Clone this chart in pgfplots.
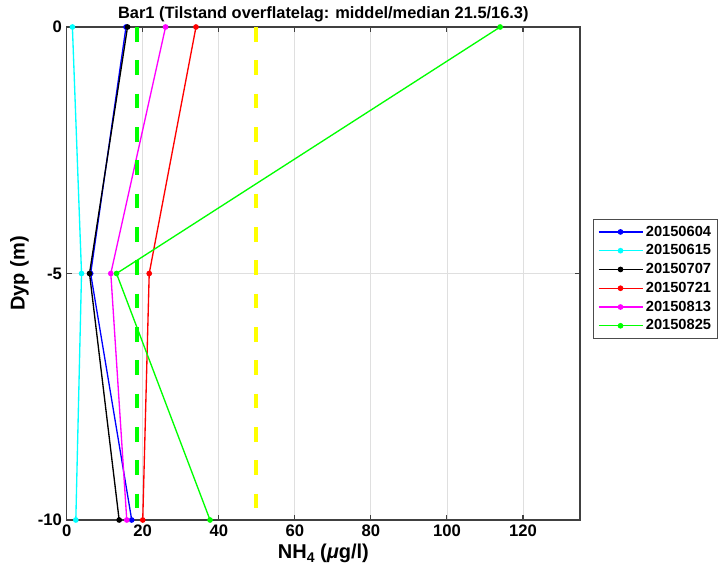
\documentclass[border=0pt]{standalone}
\usepackage{pgfplots}
\pgfplotsset{compat=1.18}
\usepackage{fontspec}
\setmainfont{Liberation Sans}
\definecolor{mblue}{RGB}{0,0,255}
\definecolor{mcyan}{RGB}{0,255,255}
\definecolor{mred}{RGB}{255,0,0}
\definecolor{mmag}{RGB}{255,0,255}
\definecolor{mgreen}{RGB}{0,255,0}
\definecolor{myellow}{RGB}{255,255,0}
\begin{document}
\begin{tikzpicture}[x=0.75pt,y=0.75pt]
\begin{axis}[
  at={(0,0)}, anchor=south west,
  scale only axis, width=384.98pt, height=369.75pt,
  xmin=0, xmax=135, ymin=-10, ymax=0,
  xtick={0,20,40,60,80,100,120}, ytick={-10,-5,0},
  grid=major, major grid style={gray!25, line width=0.6pt},
  axis line style={black!75, line width=0.8pt},
  tick style={black!75, line width=0.8pt},
  tick align=inside, major tick length=4pt,
  tick label style={font=\bfseries\fontsize{12.5}{14}\selectfont},
  /pgf/number format/assume math mode=true,
  title={\bfseries Bar1 (Tilstand overflatelag: middel/median 21.5/16.3)},
  title style={font=\fontsize{12.3}{14}\selectfont, at={(axis description cs:0.5,1)}, anchor=south, yshift=-6pt},
  xlabel={\bfseries NH\raisebox{-0.35ex}{\fontsize{10.5}{12}\selectfont 4} ({\itshape μ}g/l)},
  xlabel style={font=\fontsize{15}{17}\selectfont, yshift=1pt},
  ylabel={\bfseries Dyp (m)},
  ylabel style={font=\fontsize{15}{17}\selectfont, yshift=0pt},
  legend style={at={(395pt,226pt)}, anchor=north west, draw=black!70, line width=0.7pt,
    font=\bfseries\fontsize{11}{13}\selectfont, row sep=0.9pt, inner xsep=3pt, inner ysep=3pt},
  legend cell align=left,
  legend image code/.code={\draw[#1, mark repeat=2, mark phase=2] plot coordinates {(0cm,0cm) (0.58cm,0cm) (1.16cm,0cm)};},
  every axis plot/.append style={line width=1pt, mark=*, mark size=1.6pt},
]
\addplot[mblue, mark options={fill=mblue}] coordinates {(15.6,0) (6.3,-5) (17.1,-10)};
\addlegendentry{20150604}
\addplot[mcyan, mark options={fill=mcyan}] coordinates {(1.5,0) (3.9,-5) (2.4,-10)};
\addlegendentry{20150615}
\addplot[black, mark options={fill=black}] coordinates {(16.0,0) (6.0,-5) (13.8,-10)};
\addlegendentry{20150707}
\addplot[mred, mark options={fill=mred}] coordinates {(34.0,0) (21.7,-5) (20.0,-10)};
\addlegendentry{20150721}
\addplot[mmag, mark options={fill=mmag}] coordinates {(26.0,0) (11.6,-5) (15.8,-10)};
\addlegendentry{20150813}
\addplot[mgreen, mark options={fill=mgreen}] coordinates {(114.0,0) (13.1,-5) (37.7,-10)};
\addlegendentry{20150825}
\addplot[mgreen, line width=3pt, dash pattern=on 11pt off 14pt, mark=none, forget plot] coordinates {(18.4,0) (18.4,-10)};
\addplot[myellow, line width=3pt, dash pattern=on 11pt off 14pt, mark=none, forget plot] coordinates {(49.7,0) (49.7,-10)};
\end{axis}
\pgfresetboundingbox
\path[use as bounding box] (-66.7,-56) rectangle (654.3,520);
\end{tikzpicture}
\end{document}
